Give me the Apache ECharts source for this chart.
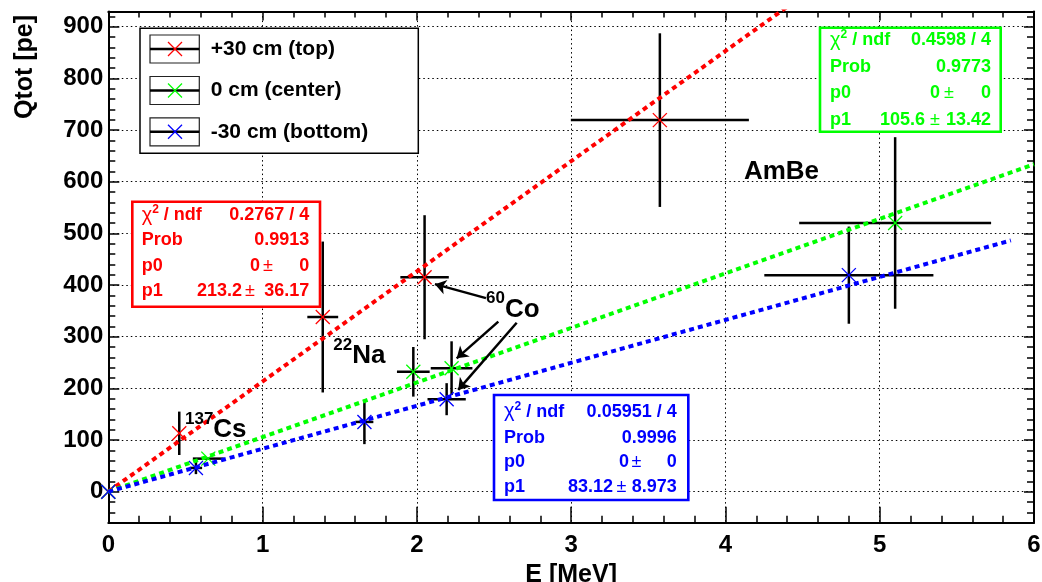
<!DOCTYPE html>
<html><head><meta charset="utf-8">
<script src="https://cdn.jsdelivr.net/npm/echarts@6/dist/echarts.min.js"></script>
<style>html,body{margin:0;padding:0;background:#fff}#c{width:1042px;height:582px}</style>
</head><body><div id="c"></div>
<script>
// ---------------- data ----------------
const seriesNames = ['+30 cm (top)', '0 cm (center)', '-30 cm (bottom)'];
// E [MeV], Qtot [pe] and their errors
const topE       = [0, 0.46, 1.39, 2.05, 3.575];
const topQ       = [0, 113, 338, 415, 719];
const topEerr    = [0, 0, 0.10, 0.157, 0.577];
const topQerr    = [0, 42, 146, 120, 168];
const centerE    = [0, 0.648, 1.977, 2.225, 5.10];
const centerQ    = [0, 64, 232, 239, 520];
const centerEerr = [0, 0.10, 0.106, 0.135, 0.622];
const centerQerr = [0, 0, 48, 52, 166];
const bottomE    = [0, 0.568, 1.66, 2.193, 4.80];
const bottomQ    = [0, 46, 135, 179, 419];
const bottomEerr = [0, 0.04, 0.058, 0.124, 0.548];
const bottomQerr = [0, 12, 43, 31, 94];
// fit results: Qtot = p0 + p1*E
const fitChi2  = ['0.2767 / 4', '0.4598 / 4', '0.05951 / 4'];
const fitProb  = ['0.9913', '0.9773', '0.9996'];
const fitP0    = ['0', '0', '0'];
const fitP0err = ['0', '0', '0'];
const fitP1    = [213.2, 105.6, 83.12];
const fitP1err = ['36.17', '13.42', '8.973'];
const fitEmax  = [4.5, 6.0, 5.85];
const sourceIso = ['137', '22', '60', ''];
const sourceEl  = ['Cs', 'Na', 'Co', 'AmBe'];

// ---------------- layout / style ----------------
const FONT = "'Liberation Sans', Arial, Helvetica, sans-serif";
const colors = ['#ff0000', '#00ff00', '#0000ff'];
const sourceAt = [[0.497, 119], [1.458, 262], [2.448, 352], [4.12, 618]];
const arrowSeg = [
  [[2.448, 374.6], [2.117, 401.6]],
  [[2.528, 329], [2.258, 258]],
  [[2.647, 327], [2.268, 197]]
];
const statLayout = [
  {box:[132.3, 201.7, 320, 306.7], left:141.7, right:309.3, rows:[215, 240.5, 266, 291.5], p0v:260, p0pm:268, p1v:242, p1pm:250},
  {box:[820, 27.7, 1000.7, 131.7], left:830, right:991, rows:[40, 66.7, 93.3, 120], p0v:940, p0pm:949, p1v:925, p1pm:935},
  {box:[494, 395, 688.3, 500], left:504, right:676.7, rows:[411.7, 437.7, 461.7, 486.7], p0v:629, p0pm:636.5, p1v:613, p1pm:621.5}
];

const groups = [
  [topE, topQ, topEerr, topQerr],
  [centerE, centerQ, centerEerr, centerQerr],
  [bottomE, bottomQ, bottomEerr, bottomQerr]
];

function renderErr(color) {
  return function (params, api) {
    const x = api.value(0), y = api.value(1), ex = api.value(2), ey = api.value(3);
    const c = api.coord([x, y]);
    const ch = [];
    const bar = {stroke: '#000', lineWidth: 2.5};
    if (ex > 0) {
      const l = api.coord([x - ex, y]), r = api.coord([x + ex, y]);
      ch.push({type: 'line', shape: {x1: l[0], y1: l[1], x2: r[0], y2: r[1]}, style: bar});
    }
    if (ey > 0) {
      const t = api.coord([x, y + ey]), b = api.coord([x, y - ey]);
      ch.push({type: 'line', shape: {x1: t[0], y1: t[1], x2: b[0], y2: b[1]}, style: bar});
    }
    const s = 7, mk = {stroke: color, lineWidth: 1.3};
    ch.push({type: 'line', shape: {x1: c[0] - s, y1: c[1] - s, x2: c[0] + s, y2: c[1] + s}, style: mk});
    ch.push({type: 'line', shape: {x1: c[0] - s, y1: c[1] + s, x2: c[0] + s, y2: c[1] - s}, style: mk});
    return {type: 'group', children: ch};
  };
}

const series = [];
groups.forEach((g, i) => {
  series.push({
    type: 'custom', name: seriesNames[i], xAxisIndex: 0, yAxisIndex: 0, z: 2,
    renderItem: renderErr(colors[i]), clip: false,
    encode: {x: 0, y: 1},
    data: g[0].map((e, k) => [e, g[1][k], g[2][k], g[3][k]])
  });
});
groups.forEach((g, i) => {
  const s = {
    type: 'line', xAxisIndex: 0, yAxisIndex: 0, z: 3, symbol: 'none', clip: true,
    lineStyle: {color: colors[i], width: 4, type: [5, 4], cap: 'butt'},
    data: [[0, 0], [fitEmax[i], fitP1[i] * fitEmax[i]]]
  };
  if (i === 2) {
    s.markLine = {
      silent: true, animation: false, symbol: ['none', 'arrow'], symbolSize: 11,
      label: {show: false},
      lineStyle: {color: '#000', width: 2.5, type: 'solid'},
      data: arrowSeg.map(a => [{coord: a[0]}, {coord: a[1]}])
    };
  }
  series.push(s);
});

const labelFont = {fontFamily: FONT, fontWeight: 'bold', fontSize: 24, color: '#000'};
const frame = {show: true, onZero: false, lineStyle: {color: '#000', width: 2}};
const tickStyle = {color: '#000', width: 1.5};
const gridDot = {color: '#000', width: 1, type: [1.5, 3]};
const yMin = -60, yMax = 929;

const option = {
  animation: false,
  backgroundColor: '#fff',
  grid: [
    {left: 108.3, right: 8, top: 11.6, bottom: 59.3, containLabel: false, outerBoundsMode: 'none'},
    {left: 108.3, right: 8, top: 11.6, bottom: 59.3, containLabel: false, outerBoundsMode: 'none'}
  ],
  xAxis: [
    {type: 'value', gridIndex: 0, position: 'bottom', min: 0, max: 6, interval: 1,
      axisLine: frame,
      axisTick: {show: true, inside: true, length: 16, lineStyle: tickStyle},
      minorTick: {show: true, splitNumber: 5, length: 7, lineStyle: tickStyle},
      axisLabel: Object.assign({margin: 11}, labelFont),
      splitLine: {show: true, lineStyle: gridDot},
      name: 'E [MeV]', nameLocation: 'middle', nameGap: 38,
      nameTextStyle: {fontFamily: FONT, fontWeight: 'bold', fontSize: 25, color: '#000'}},
    {type: 'value', gridIndex: 0, position: 'top', min: 0, max: 6, interval: 1,
      axisLine: frame,
      axisTick: {show: true, inside: true, length: 9, lineStyle: tickStyle},
      minorTick: {show: true, splitNumber: 5, length: 6, lineStyle: tickStyle},
      axisLabel: {show: false}, splitLine: {show: false}},
    {type: 'value', gridIndex: 1, min: 0, max: 6, show: false}
  ],
  yAxis: [
    {type: 'value', gridIndex: 0, position: 'left', min: yMin, max: yMax, splitNumber: 10, minInterval: 100, maxInterval: 100,
      axisLine: frame,
      axisTick: {show: true, inside: true, length: 11, lineStyle: tickStyle},
      axisLabel: Object.assign({margin: 5, showMinLabel: false, showMaxLabel: false}, labelFont),
      splitLine: {show: true, lineStyle: gridDot}},
    {type: 'value', gridIndex: 0, position: 'right', min: yMin, max: yMax, splitNumber: 10, minInterval: 100, maxInterval: 100,
      axisLine: frame,
      axisTick: {show: true, inside: true, length: 10, lineStyle: tickStyle},
      axisLabel: {show: false}, splitLine: {show: false}},
    {type: 'value', gridIndex: 1, position: 'left', min: yMin, max: yMax, interval: 20,
      axisLine: {show: false},
      axisTick: {show: true, inside: true, length: 7, lineStyle: tickStyle},
      axisLabel: {show: false}, splitLine: {show: false}},
    {type: 'value', gridIndex: 1, position: 'right', min: yMin, max: yMax, interval: 20,
      axisLine: {show: false},
      axisTick: {show: true, inside: true, length: 7, lineStyle: tickStyle},
      axisLabel: {show: false}, splitLine: {show: false}}
  ],
  series: series
};

const chart = echarts.init(document.getElementById('c'), null, {renderer: 'canvas'});
chart.setOption(option);

// ---------------- graphics: legend, stat boxes, labels ----------------
const g = [];
const Z = 100;
// y title
g.push({type: 'text', z: Z, x: 25, y: 67, rotation: Math.PI / 2,
  style: {text: 'Qtot [pe]', font: 'bold 25px ' + FONT, fill: '#000', align: 'center', verticalAlign: 'middle'}});

// legend
g.push({type: 'rect', z: Z, shape: {x: 140, y: 28.3, width: 278.3, height: 125},
  style: {fill: '#fff', stroke: '#000', lineWidth: 1.5}});
const legRows = [49, 90.5, 131.8];
seriesNames.forEach((name, i) => {
  const ry = legRows[i], cx = 175, s = 7;
  g.push({type: 'rect', z: Z, shape: {x: 150, y: ry - 14, width: 49.3, height: 28},
    style: {fill: '#fff', stroke: '#222', lineWidth: 1.2}});
  g.push({type: 'line', z: Z, shape: {x1: 150, y1: ry, x2: 199.3, y2: ry}, style: {stroke: '#000', lineWidth: 2.5}});
  g.push({type: 'line', z: Z, shape: {x1: cx - s, y1: ry - s, x2: cx + s, y2: ry + s}, style: {stroke: colors[i], lineWidth: 1.3}});
  g.push({type: 'line', z: Z, shape: {x1: cx - s, y1: ry + s, x2: cx + s, y2: ry - s}, style: {stroke: colors[i], lineWidth: 1.3}});
  g.push({type: 'text', z: Z, x: 210.7, y: ry,
    style: {text: name, font: 'bold 21px ' + FONT, fill: '#000', align: 'left', verticalAlign: 'middle'}});
});

// stat boxes
statLayout.forEach((L, i) => {
  const col = colors[i];
  const bf = 'bold 18px ' + FONT;
  g.push({type: 'rect', z: Z, shape: {x: L.box[0], y: L.box[1], width: L.box[2] - L.box[0], height: L.box[3] - L.box[1]},
    style: {fill: '#fff', stroke: col, lineWidth: 2.6}});
  const txt = (x, y, t, align, font) => g.push({type: 'text', z: Z, x: x, y: y,
    style: {text: t, font: font || bf, fill: col, align: align, verticalAlign: 'middle'}});
  g.push({type: 'text', z: Z, x: L.left, y: L.rows[0],
    style: {text: '{c|χ}{s|2}{b| / ndf}', fill: col, align: 'left', verticalAlign: 'middle',
      rich: {
        c: {fontSize: 20, fontFamily: FONT, fill: col},
        s: {fontSize: 12, fontFamily: FONT, fontWeight: 'bold', fill: col, padding: [0, 0, 11, 0]},
        b: {fontSize: 18, fontFamily: FONT, fontWeight: 'bold', fill: col}
      }}});
  txt(L.right, L.rows[0], fitChi2[i], 'right');
  txt(L.left, L.rows[1], 'Prob', 'left');
  txt(L.right, L.rows[1], fitProb[i], 'right');
  txt(L.left, L.rows[2], 'p0', 'left');
  txt(L.p0v, L.rows[2], fitP0[i], 'right');
  txt(L.p0pm, L.rows[2], '±', 'center', '18px ' + FONT);
  txt(L.right, L.rows[2], fitP0err[i], 'right');
  txt(L.left, L.rows[3], 'p1', 'left');
  txt(L.p1v, L.rows[3], String(fitP1[i]), 'right');
  txt(L.p1pm, L.rows[3], '±', 'center', '18px ' + FONT);
  txt(L.right, L.rows[3], fitP1err[i], 'right');
});

// source labels
sourceEl.forEach((el, i) => {
  const p = chart.convertToPixel({gridIndex: 0}, sourceAt[i]);
  const text = sourceIso[i] ? '{sup|' + sourceIso[i] + '}{el|' + el + '}' : '{el|' + el + '}';
  g.push({type: 'text', z: Z, x: p[0], y: p[1],
    style: {text: text, align: 'left', verticalAlign: 'middle',
      rich: {
        sup: {fontSize: 17, fontFamily: FONT, fontWeight: 'bold', fill: '#000', padding: [0, 0, 22, 0]},
        el: {fontSize: 26, fontFamily: FONT, fontWeight: 'bold', fill: '#000'}
      }}});
});

chart.setOption({graphic: {elements: g}});
</script>
</body></html>
